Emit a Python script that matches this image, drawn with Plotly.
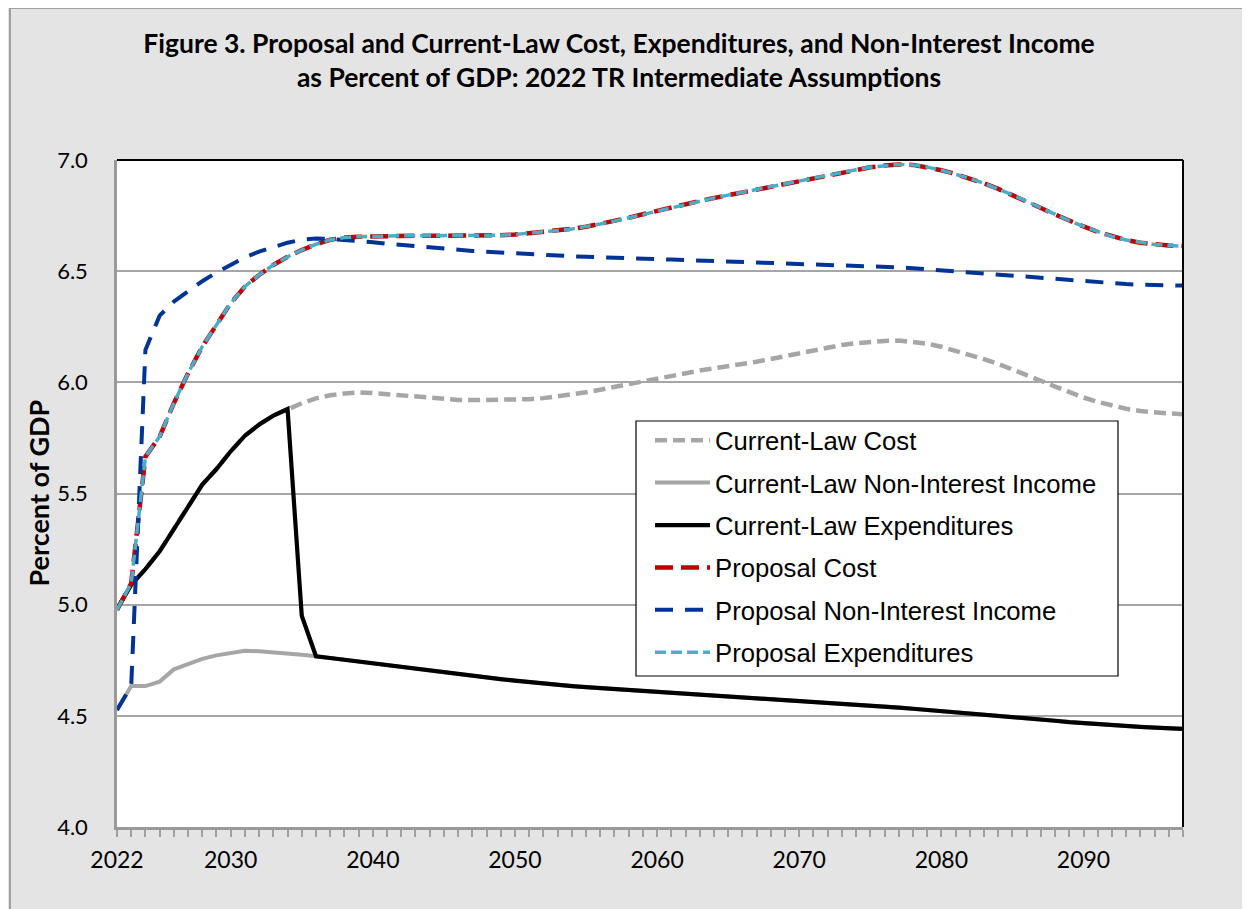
import plotly.graph_objects as go

years = list(range(2022, 2098))

cl_expenditures = [
    4.98, 5.09, 5.16, 5.24, 5.34, 5.44, 5.54, 5.61, 5.69, 5.76,
    5.81, 5.85, 5.88, 4.95, 4.768, 4.76, 4.752, 4.744, 4.736, 4.729,
    4.72, 4.711, 4.702, 4.693, 4.686, 4.679, 4.672, 4.665, 4.658, 4.651,
    4.645, 4.64, 4.634, 4.629, 4.625, 4.621, 4.617, 4.613, 4.609, 4.605,
    4.601, 4.597, 4.593, 4.589, 4.585, 4.581, 4.577, 4.573, 4.569, 4.565,
    4.561, 4.557, 4.553, 4.548, 4.543, 4.537, 4.532, 4.527, 4.522, 4.517,
    4.512, 4.507, 4.502, 4.496, 4.49, 4.484, 4.478, 4.472, 4.467, 4.462,
    4.458, 4.454, 4.45, 4.447, 4.444, 4.441,
]

cl_cost = [
    4.98, 5.09, 5.16, 5.24, 5.34, 5.44, 5.54, 5.61, 5.69, 5.76,
    5.81, 5.85, 5.88, 5.906, 5.928, 5.942, 5.95, 5.954, 5.952, 5.947,
    5.941, 5.934, 5.928, 5.924, 5.921, 5.92, 5.92, 5.92, 5.922, 5.924,
    5.929, 5.936, 5.944, 5.955, 5.967, 5.98, 5.993, 6.006, 6.019, 6.031,
    6.042, 6.053, 6.063, 6.072, 6.082, 6.093, 6.105, 6.118, 6.131, 6.145,
    6.158, 6.168, 6.176, 6.182, 6.186, 6.188, 6.183, 6.174, 6.16, 6.143,
    6.124, 6.104, 6.083, 6.059, 6.033, 6.007, 5.981, 5.956, 5.932, 5.912,
    5.895, 5.881, 5.871, 5.864, 5.86, 5.857,
]

cl_income = [
    4.526, 4.634, 4.634, 4.654, 4.709, 4.732, 4.756, 4.772, 4.781, 4.793,
    4.79, 4.786, 4.781, 4.775, 4.768, 4.76, 4.752, 4.744, 4.736, 4.729,
    4.72, 4.711, 4.702, 4.693, 4.686, 4.679, 4.672, 4.665, 4.658, 4.651,
    4.645, 4.64, 4.634, 4.629, 4.625, 4.621, 4.617, 4.613, 4.609, 4.605,
    4.601, 4.597, 4.593, 4.589, 4.585, 4.581, 4.577, 4.573, 4.569, 4.565,
    4.561, 4.557, 4.553, 4.548, 4.543, 4.537, 4.532, 4.527, 4.522, 4.517,
    4.512, 4.507, 4.502, 4.496, 4.49, 4.484, 4.478, 4.472, 4.467, 4.462,
    4.458, 4.454, 4.45, 4.447, 4.444, 4.441,
]

prop_cost = [
    4.976, 5.096, 5.666, 5.756, 5.906, 6.041, 6.161, 6.258, 6.356, 6.431,
    6.483, 6.528, 6.565, 6.595, 6.621, 6.641, 6.651, 6.655, 6.657, 6.658,
    6.659, 6.659, 6.659, 6.659, 6.659, 6.659, 6.66, 6.662, 6.665, 6.67,
    6.676, 6.683, 6.69, 6.7, 6.712, 6.725, 6.74, 6.756, 6.772, 6.788,
    6.803, 6.816, 6.829, 6.842, 6.855, 6.868, 6.881, 6.894, 6.907, 6.92,
    6.933, 6.945, 6.956, 6.967, 6.975, 6.98, 6.978, 6.968, 6.954, 6.937,
    6.917, 6.895, 6.87, 6.843, 6.814, 6.784, 6.755, 6.727, 6.701, 6.677,
    6.656, 6.64, 6.628, 6.62, 6.615, 6.613,
]

prop_income = [
    4.526, 4.634, 6.146, 6.30, 6.363, 6.408, 6.455, 6.494, 6.528, 6.562,
    6.588, 6.61, 6.628, 6.642, 6.647, 6.645, 6.641, 6.636, 6.63, 6.623,
    6.617, 6.611, 6.605, 6.6, 6.596, 6.591, 6.587, 6.583, 6.58, 6.576,
    6.573, 6.57, 6.567, 6.565, 6.562, 6.56, 6.558, 6.556, 6.554, 6.552,
    6.55, 6.548, 6.546, 6.544, 6.542, 6.54, 6.538, 6.536, 6.534, 6.532,
    6.53, 6.528, 6.526, 6.523, 6.52, 6.517, 6.513, 6.508, 6.503, 6.498,
    6.493, 6.488, 6.483, 6.478, 6.474, 6.469, 6.464, 6.459, 6.454, 6.45,
    6.446, 6.442, 6.439, 6.437, 6.436, 6.435,
]

prop_expenditures = [
    4.976, 5.096, 5.666, 5.756, 5.906, 6.041, 6.161, 6.258, 6.356, 6.431,
    6.483, 6.528, 6.565, 6.595, 6.621, 6.641, 6.651, 6.655, 6.657, 6.658,
    6.659, 6.659, 6.659, 6.659, 6.659, 6.659, 6.66, 6.662, 6.665, 6.67,
    6.676, 6.683, 6.69, 6.7, 6.712, 6.725, 6.74, 6.756, 6.772, 6.788,
    6.803, 6.816, 6.829, 6.842, 6.855, 6.868, 6.881, 6.894, 6.907, 6.92,
    6.933, 6.945, 6.956, 6.967, 6.975, 6.98, 6.978, 6.968, 6.954, 6.937,
    6.917, 6.895, 6.87, 6.843, 6.814, 6.784, 6.755, 6.727, 6.701, 6.677,
    6.656, 6.64, 6.628, 6.62, 6.615, 6.613,
]

x_tick_labels = {2022: "2022", 2030: "2030", 2040: "2040", 2050: "2050",
                 2060: "2060", 2070: "2070", 2080: "2080", 2090: "2090"}

series = [
    ("Current-Law Cost", cl_cost, "#A6A6A6", "12px,6px", 4.5),
    ("Current-Law Non-Interest Income", cl_income, "#A6A6A6", "solid", 4),
    ("Current-Law Expenditures", cl_expenditures, "#000000", "solid", 4.2),
    ("Proposal Cost", prop_cost, "#C00000", "18px,8px", 4.5),
    ("Proposal Non-Interest Income", prop_income, "#003494", "18px,12px", 4),
    ("Proposal Expenditures", prop_expenditures, "#4BACC6", "11px,5px", 3.5),
]

fig = go.Figure()
for i, (name, vals, color, dash, w) in enumerate(series):
    fig.add_trace(go.Scatter(
        x=years, y=vals, mode="lines", name=name, legendgroup=f"g{i}",
        line=dict(color=color, dash=dash, width=w),
    ))

# The page body adds an 8px offset; the figure is sized to compensate.
OFF = 8
W, H = 1250 - OFF, 909 - OFF
L, R, T, B = 117 - OFF, 1183 - OFF, 160 - OFF, 827 - OFF
pw, ph = R - L, B - T


def px_x(p):
    return (p - OFF - L) / pw


def px_y(p):
    return (B - (p - OFF)) / ph


fig.update_layout(
    width=W, height=H,
    margin=dict(l=L, r=W - R, t=T, b=H - B, pad=0),
    paper_bgcolor="#E4E4E4",
    plot_bgcolor="#FFFFFF",
    title=dict(
        text="<b>Figure 3. Proposal and Current-Law Cost, Expenditures, and Non-Interest Income"
             "<br>as Percent of GDP: 2022 TR Intermediate Assumptions</b>",
        x=(619 - OFF) / W, xanchor="center", xref="container",
        y=1 - 45 / H, yanchor="top", yref="container",
        font=dict(family="Lato", size=26.5, color="#000000"),
    ),
    showlegend=True,
    legend=dict(
        x=px_x(650), y=px_y(417), xanchor="left", yanchor="top",
        bgcolor="rgba(0,0,0,0)", borderwidth=0,
        font=dict(family="Liberation Sans", size=25.7, color="#000000"),
        tracegroupgap=6, traceorder="grouped", itemwidth=55,
    ),
    xaxis=dict(
        range=[2022, 2097],
        tickmode="array",
        tickvals=years,
        ticktext=[x_tick_labels.get(y, "") for y in years],
        ticks="outside", ticklen=7, tickwidth=1.5, tickcolor="#A0A0A0",
        showgrid=False, zeroline=False,
        showline=True, linecolor="#999999", linewidth=2.5,
        tickfont=dict(family="Lato", size=23, color="#000000"),
        ticklabelstandoff=4,
    ),
    yaxis=dict(
        range=[4, 7], dtick=0.5, tick0=4, tickformat=".1f",
        ticks="", showgrid=True, gridcolor="#A6A6A6", gridwidth=1.5,
        zeroline=False,
        showline=True, linecolor="#999999", linewidth=2.5,
        tickfont=dict(family="Lato", size=22, color="#000000"),
        ticklabelstandoff=22,
    ),
    annotations=[dict(
        text="<b>Percent of GDP</b>", textangle=-90,
        x=px_x(38), y=0.5, xref="paper", yref="paper",
        xanchor="center", yanchor="middle", showarrow=False,
        font=dict(family="Lato", size=27, color="#000000"),
    )],
    shapes=[
        dict(type="line", xref="paper", yref="paper", x0=0, x1=1, y0=1, y1=1,
             line=dict(color="#000000", width=2)),
        dict(type="line", xref="paper", yref="paper", x0=1, x1=1, y0=0, y1=1,
             line=dict(color="#000000", width=2)),
        dict(type="line", xref="paper", yref="paper", x0=px_x(10), x1=px_x(10),
             y0=px_y(H + 20), y1=px_y(8), line=dict(color="#A0A0A0", width=2)),
        dict(type="line", xref="paper", yref="paper", x0=px_x(10), x1=px_x(W + 20),
             y0=px_y(8), y1=px_y(8), line=dict(color="#A0A0A0", width=2)),
        # legend box
        dict(type="rect", xref="paper", yref="paper", layer="above",
             x0=px_x(636), x1=px_x(1118), y0=px_y(676), y1=px_y(421),
             fillcolor="#FFFFFF", line=dict(color="#000000", width=1.2)),
    ],
)

fig.write_html("out.html")
